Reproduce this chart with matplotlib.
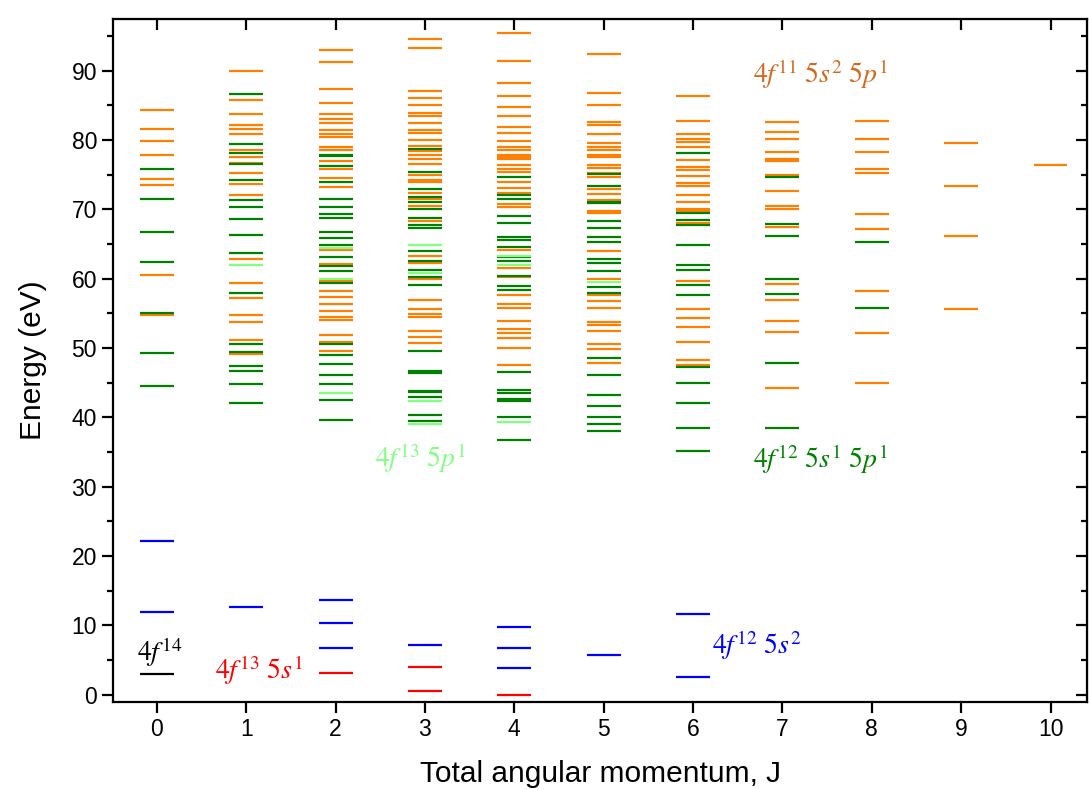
import numpy as np
import matplotlib
matplotlib.use("Agg")
import matplotlib.pyplot as plt
from matplotlib.ticker import MultipleLocator

plt.rcParams['font.family'] = ['Liberation Sans', 'DejaVu Sans']
plt.rcParams['mathtext.fontset'] = 'stix'

J = list(range(11))

# 4f11 5s2 5p1 (orange)
orange_levels = [
    [84.3, 81.6, 79.8, 77.8, 74.4, 73.5, 60.5, 54.8],
    [90.0, 85.8, 83.7, 82.1, 81.6, 80.8, 78.6, 77.6, 76.7, 75.3, 73.7, 72.0, 62.8, 59.4, 57.2, 54.7,
     53.8, 51.2, 49.1],
    [93.0, 91.2, 87.4, 85.3, 83.7, 83.0, 82.4, 81.5, 80.8, 80.4, 79.0, 78.5, 77.0, 75.8, 74.5, 73.2,
     64.1, 62.1, 59.6, 58.2, 57.3, 56.4, 55.4, 54.5, 54.1, 51.9, 50.9, 49.5],
    [94.6, 93.2, 87.0, 86.0, 85.0, 83.9, 83.4, 82.5, 81.4, 81.0, 80.0, 79.2, 78.4, 77.8, 77.2, 76.5,
     74.9, 74.3, 73.9, 72.4, 71.5, 70.5, 68.3, 63.3, 62.2, 60.0, 56.9, 55.6, 54.9, 54.5, 52.5, 51.6,
     50.7],
    [95.5, 91.4, 88.2, 86.4, 84.8, 83.4, 81.9, 81.0, 79.8, 79.0, 78.6, 77.9, 77.5, 77.2, 76.4, 75.8,
     75.4, 73.9, 73.1, 72.4, 70.7, 70.3, 64.1, 61.6, 60.2, 57.7, 56.4, 55.8, 53.9, 52.8, 52.1, 51.5,
     50.0, 47.5],
    [92.4, 86.8, 85.0, 82.6, 82.1, 80.8, 79.6, 79.0, 78.5, 77.9, 77.5, 76.4, 76.0, 75.3, 74.6, 72.9,
     72.2, 71.3, 69.8, 69.4, 64.0, 60.0, 57.7, 56.8, 55.7, 53.8, 53.3, 52.4, 50.6, 49.9, 47.8],
    [86.4, 82.8, 80.9, 80.1, 79.7, 79.0, 77.1, 76.1, 75.6, 74.8, 73.8, 73.4, 72.0, 71.1, 70.1, 69.7,
     68.1, 59.6, 55.6, 54.4, 53.0, 50.8, 48.2, 47.6],
    [82.6, 81.2, 80.1, 78.2, 77.2, 76.9, 75.0, 72.7, 70.5, 70.0, 67.5, 59.3, 56.9, 53.9, 52.3, 44.3],
    [82.7, 80.2, 78.3, 75.8, 75.3, 69.3, 67.2, 58.2, 52.2, 45.0],
    [79.6, 73.4, 66.1, 55.6],
    [76.4],
]

# 4f12 5s1 5p1 (green)
green_levels = [
    [75.8, 71.5, 66.7, 62.4, 55.1, 49.3, 44.5],
    [86.7, 79.4, 78.1, 76.5, 74.2, 71.3, 70.3, 68.6, 66.3, 63.7, 58.0, 50.6, 49.4, 47.4, 46.7, 44.8,
     42.0],
    [77.9, 77.7, 76.2, 74.0, 71.5, 70.4, 69.3, 68.8, 66.8, 65.9, 64.8, 63.1, 61.8, 61.1, 59.4, 50.6,
     49.0, 47.7, 46.1, 44.8, 42.5, 39.6],
    [78.7, 75.4, 73.0, 71.8, 71.1, 70.1, 68.8, 67.8, 67.3, 64.0, 62.6, 61.2, 60.3, 59.1, 49.6, 46.7,
     46.4, 43.8, 43.6, 42.9, 40.3, 39.5],
    [74.6, 72.0, 71.5, 69.0, 68.0, 66.0, 65.6, 64.5, 63.1, 62.6, 60.4, 58.9, 58.4, 46.5, 43.9, 43.5,
     42.7, 42.3, 40.1, 36.7],
    [75.1, 73.3, 71.1, 70.9, 68.3, 67.3, 66.0, 65.3, 62.9, 62.2, 61.1, 58.8, 57.9, 48.6, 46.1, 43.2,
     41.7, 40.1, 39.1, 38.1],
    [78.1, 69.5, 68.5, 67.7, 64.8, 62.0, 61.2, 59.1, 57.6, 47.2, 44.9, 42.1, 38.4, 35.2],
    [74.7, 67.9, 66.2, 60.0, 57.8, 47.8, 38.4],
    [65.3, 55.8],
    [],
    [],
]

# 4f13 5p1 (light green)
lightgreen_levels = [[], [62.0], [64.4, 60.0, 43.5], [64.9, 60.8, 42.4, 39.0], [63.3, 61.9, 39.4],
                     [59.5], [], [], [], [], []]

# 4f12 5s2 (blue)
blue_levels = [[22.2, 12.0], [12.7], [13.7, 10.3, 6.7], [7.2], [9.7, 6.8, 3.8], [5.7], [11.6, 2.6],
               [], [], [], []]

# 4f13 5s1 (red)
red_levels = [[], [], [3.2], [4.0, 0.5], [0.0], [], [], [], [], [], []]

# 4f14 (black)
black_levels = [[3.0], [], [], [], [], [], [], [], [], [], []]

series = [
    (orange_levels, '#ff8000'),
    (green_levels, '#008000'),
    (lightgreen_levels, '#80ff80'),
    (blue_levels, '#0000ff'),
    (red_levels, '#ff0000'),
    (black_levels, '#000000'),
]

fig = plt.figure(figsize=(10.89, 7.9), dpi=100)
ax = fig.add_axes([0.1038, 0.1114, 0.8945, 0.865])

half = 0.19
for levels, col in series:
    for j, ys in zip(J, levels):
        if ys:
            ax.hlines(ys, j - half, j + half, colors=col, linewidth=1.6)

# configuration labels
lab = dict(fontsize=20)
ax.text(-0.22, 4.8, r'$4f^{14}$', color='black', **lab)
ax.text(0.65, 2.2, r'$4f^{13}\ 5s^{1}$', color='#ff0000', **lab)
ax.text(6.21, 5.8, r'$4f^{12}\ 5s^{2}$', color='#0000ff', **lab)
ax.text(2.44, 32.9, r'$4f^{13}\ 5p^{1}$', color='#80ff80', **lab)
ax.text(6.67, 32.7, r'$4f^{12}\ 5s^{1}\ 5p^{1}$', color='#008000', **lab)
ax.text(6.67, 88.2, r'$4f^{11}\ 5s^{2}\ 5p^{1}$', color='#d2691e', **lab)

ax.set_xlim(-0.49, 10.41)
ax.set_ylim(-1.05, 97.5)
ax.set_xticks(J)
ax.yaxis.set_major_locator(MultipleLocator(10))
ax.yaxis.set_minor_locator(MultipleLocator(5))

for s in ax.spines.values():
    s.set_linewidth(1.6)
ax.tick_params(which='both', direction='out', width=1.6, labelsize=16.5, top=False, right=False)
ax.tick_params(which='major', length=8)
ax.tick_params(which='minor', length=4)

# inward ticks on the top and right frame edges
sec = ax.secondary_xaxis('top')
sec.set_xticks(J)
sec.tick_params(direction='in', length=8, width=1.6, labeltop=False)
secy = ax.secondary_yaxis('right')
secy.yaxis.set_major_locator(MultipleLocator(10))
secy.yaxis.set_minor_locator(MultipleLocator(5))
secy.tick_params(which='both', direction='in', width=1.6, labelright=False)
secy.tick_params(which='major', length=8)
secy.tick_params(which='minor', length=4)

ax.set_xlabel('Total angular momentum, J', fontsize=21.5, labelpad=14)
ax.set_ylabel('Energy (eV)', fontsize=21.5, labelpad=18)

fig.savefig('out.png', dpi=100)
